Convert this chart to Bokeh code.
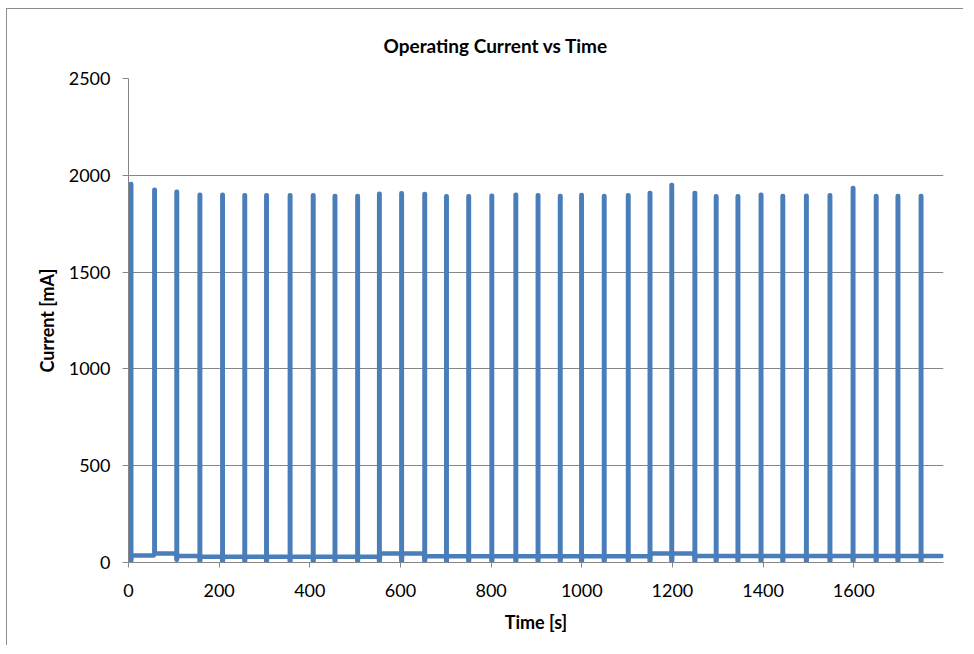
from bokeh.plotting import figure
from bokeh.models import FixedTicker, Range1d
from bokeh.embed import file_html
from bokeh.resources import INLINE

# ---- data ----
spike_t = [5, 57, 106, 157, 207, 256, 304, 356, 407, 455, 505, 553, 602, 653,
           701, 750, 801, 854, 903, 952, 999, 1049, 1102, 1150, 1198, 1249,
           1296, 1344, 1395, 1443, 1495, 1547, 1598, 1649, 1697, 1748]
spike_peak = [1955, 1925, 1915, 1900, 1900, 1897, 1897, 1897, 1897, 1893, 1893,
              1905, 1907, 1904, 1892, 1892, 1895, 1900, 1897, 1893, 1898, 1893,
              1897, 1909, 1950, 1909, 1892, 1892, 1899, 1893, 1895, 1897, 1935,
              1893, 1893, 1893]
spike_dip = [8, 46, 14, 3, 3, 3, 3, 3, 3, 3, 3, 3, 3, 3, 3, 3, 3, 3, 3, 3, 3, 3,
             3, 3, 3, 3, 3, 3, 3, 3, 3, 3, 3, 3, 3, 3]
base_after = [36, 46, 34, 30, 30, 30, 30, 30, 30, 30, 30, 46, 46, 32, 32, 32, 32,
              32, 32, 32, 32, 32, 32, 46, 46, 34, 34, 34, 34, 34, 34, 34, 34, 34,
              34, 34]
base_start = 36
end_time = 1794

x_ticks = [0, 200, 400, 600, 800, 1000, 1200, 1400, 1600]
y_ticks = [0, 500, 1000, 1500, 2000, 2500]
title_text = "Operating Current vs Time"

# ---- build polyline from the values ----
xs = [0]
ys = [base_start]
prev = base_start
for t, pk, dp, ba in zip(spike_t, spike_peak, spike_dip, base_after):
    xs += [t - 1, t, t, t + 1, t + 1, t + 2]
    ys += [prev, dp, pk, pk, dp, ba]
    prev = ba
xs.append(end_time)
ys.append(prev)

FONT = "Lato"
GRAY = "#868686"

p = figure(width=956, height=636, frame_width=815, frame_height=484,
           output_backend="svg", toolbar_location=None,
           x_range=Range1d(0, 1798), y_range=Range1d(0, 2500),
           min_border_left=121, min_border_top=69, min_border_right=20,
           min_border_bottom=83, title=title_text)

p.title.align = "left"
p.title.text_font = FONT
p.title.text_font_size = "19px"
p.title.text_font_style = "bold"
p.title.text_color = "black"
p.title.standoff = 44
p.title.offset = 255

p.line(xs, ys, line_color="#4A7EBB", line_width=4.5, line_join="round", line_cap="round")

p.xaxis.ticker = FixedTicker(ticks=x_ticks)
p.yaxis.ticker = FixedTicker(ticks=y_ticks)
p.xgrid.visible = False
p.ygrid.grid_line_color = GRAY
p.ygrid.grid_line_width = 1
p.outline_line_color = None

for ax in (p.xaxis[0], p.yaxis[0]):
    ax.axis_line_color = GRAY
    ax.axis_line_width = 1
    ax.major_tick_line_color = GRAY
    ax.major_tick_in = 0
    ax.minor_tick_line_color = None
    ax.major_label_text_font = FONT
    ax.major_label_text_font_size = "18px"
    ax.major_label_text_color = "black"
    ax.axis_label_text_font = FONT
    ax.axis_label_text_font_size = "18px"
    ax.axis_label_text_font_style = "bold"
    ax.axis_label_text_color = "black"

p.xaxis.axis_label = "Time [s]"
p.yaxis.axis_label = "Current [mA]"
p.xaxis.major_tick_out = 5
p.yaxis.major_tick_out = 6
p.xaxis.major_label_standoff = 16
p.yaxis.major_label_standoff = 12
p.xaxis.axis_label_standoff = 11
p.yaxis.axis_label_standoff = 8

p.background_fill_color = "white"
p.border_fill_color = "white"
p.styles = {"margin-left": "6px", "margin-top": "8px",
            "border-left": "1px solid #8c8c8c", "border-top": "1px solid #8c8c8c"}

open("out.html", "w").write(file_html(p, INLINE))
